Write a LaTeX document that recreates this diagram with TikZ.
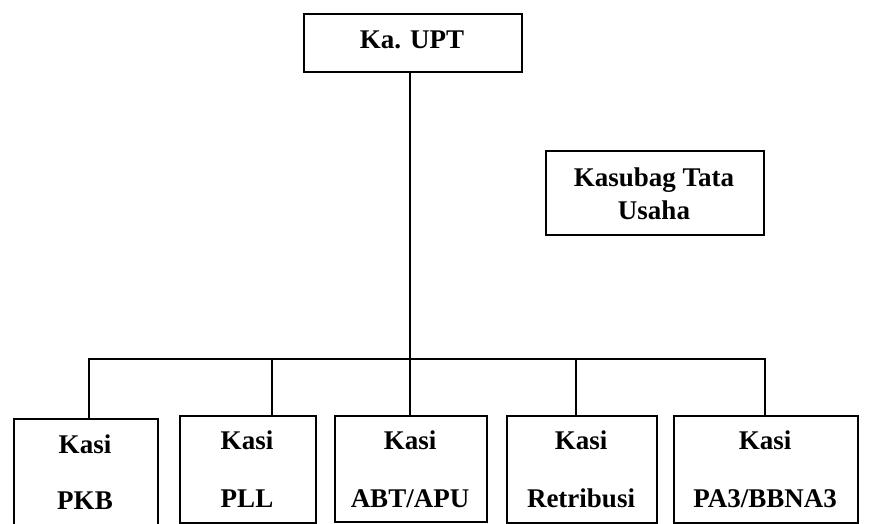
\documentclass[tikz,border=0pt]{standalone}
\usepackage{fontspec}
\setmainfont{Liberation Serif}
\begin{document}
\begin{tikzpicture}[x=1pt,y=-1pt,
  box/.style={draw=black,line width=1.5pt,rectangle,inner sep=0pt,anchor=north west},
  txt/.style={anchor=base,inner sep=0pt,font=\fontsize{27}{32}\selectfont\bfseries},
  conn/.style={line width=1.5pt,line cap=rect}]
\clip (0,0) rectangle (877,523);
\fill[white] (0,0) rectangle (877,523);
% boxes
\node[box,minimum width=218pt,minimum height=58pt] (upt) at (303,13) {};
\node[box,minimum width=218pt,minimum height=84pt] (tu) at (545,150) {};
\node[box,minimum width=144pt,minimum height=130pt] (pkb) at (13,418) {};
\node[box,minimum width=136pt,minimum height=107pt] (pll) at (179,415) {};
\node[box,minimum width=152pt,minimum height=106pt] (abt) at (334,415) {};
\node[box,minimum width=150pt,minimum height=107pt] (ret) at (506,415) {};
\node[box,minimum width=184pt,minimum height=107pt] (pa) at (673,415) {};
% texts
\node[txt] (t-upt) at (412,48) {Ka. UPT};
\node[txt] (t-tu1) at (654,186) {Kasubag Tata};
\node[txt] (t-tu2) at (654,219) {Usaha};
\node[txt] (t-pkb1) at (85,453) {Kasi};
\node[txt] (t-pkb2) at (85,509) {PKB};
\node[txt] (t-pll1) at (247,449) {Kasi};
\node[txt] (t-pll2) at (247,507) {PLL};
\node[txt] (t-abt1) at (410,449) {Kasi};
\node[txt] (t-abt2) at (410,507) {ABT/APU};
\node[txt] (t-ret1) at (581,449) {Kasi};
\node[txt] (t-ret2) at (581,507) {Retribusi};
\node[txt] (t-pa1) at (765,449) {Kasi};
\node[txt] (t-pa2) at (765,507) {PA3/BBNA3};
% bus coordinates
\coordinate (b0) at (410,359);
\coordinate (b1) at (89,359);
\coordinate (b2) at (272,359);
\coordinate (b3) at (410,359);
\coordinate (b4) at (576,359);
\coordinate (b5) at (765,359);
% connectors
\draw[conn] (b0 |- upt.south) -- (b0);
\draw[conn] (b1) -- (b5);
\draw[conn] (b1) -- (b1 |- pkb.north);
\draw[conn] (b2) -- (b2 |- pll.north);
\draw[conn] (b3) -- (b3 |- abt.north);
\draw[conn] (b4) -- (b4 |- ret.north);
\draw[conn] (b5) -- (b5 |- pa.north);
\end{tikzpicture}
\end{document}
